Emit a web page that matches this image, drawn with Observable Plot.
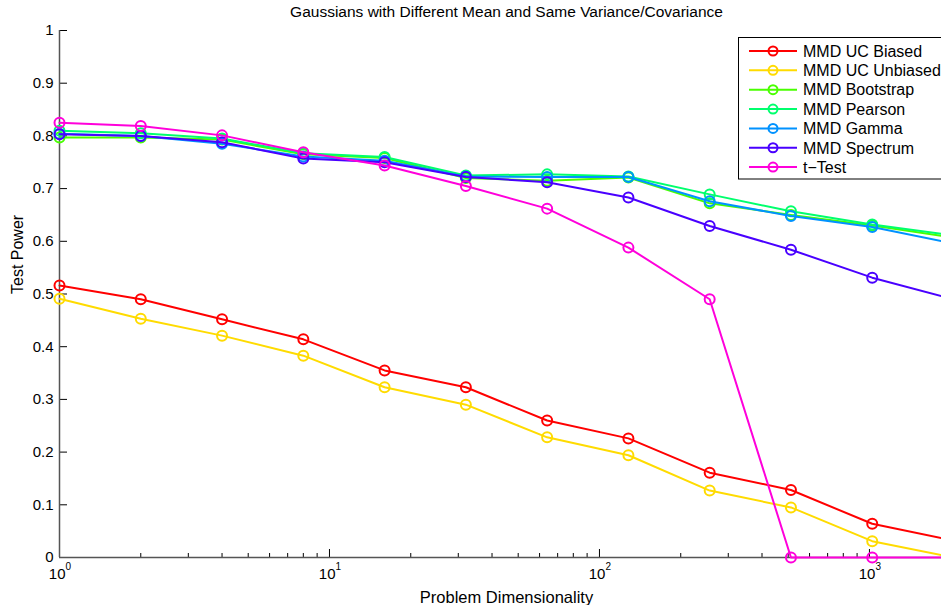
<!DOCTYPE html>
<html><head><meta charset="utf-8">
<script src="https://cdn.jsdelivr.net/npm/d3@7"></script>
<script src="https://cdn.jsdelivr.net/npm/@observablehq/plot@0.6"></script>
<style>
html,body{margin:0;padding:0;background:#fff;overflow:hidden}
#wrap{position:relative;width:941px;height:605px;overflow:hidden;font-family:"Liberation Sans",Arial,Helvetica,sans-serif;background:#fff}
#wrap svg{display:block;max-width:none !important}
#legend{position:absolute;left:738px;top:37px}
</style></head><body><div id="wrap"></div>
<script>
// ---- data ----
const dims = [1, 2, 4, 8, 16, 32, 64, 128, 256, 512, 1024, 2048];
const seriesNames = ["MMD UC Biased", "MMD UC Unbiased", "MMD Bootstrap", "MMD Pearson", "MMD Gamma", "MMD Spectrum", "t\u2212Test"];
const seriesColors = ["#ff0000", "#ffdb00", "#49ff00", "#00ff6d", "#0092ff", "#4900ff", "#ff00db"];
const ucBiased   = [0.516, 0.490, 0.452, 0.414, 0.355, 0.323, 0.260, 0.226, 0.161, 0.128, 0.064, 0.032];
const ucUnbiased = [0.491, 0.453, 0.421, 0.383, 0.323, 0.290, 0.228, 0.194, 0.127, 0.095, 0.031, 0.000];
const bootstrap  = [0.797, 0.797, 0.793, 0.765, 0.758, 0.720, 0.715, 0.721, 0.672, 0.650, 0.630, 0.607];
const pearson    = [0.810, 0.805, 0.795, 0.767, 0.760, 0.725, 0.727, 0.723, 0.689, 0.657, 0.632, 0.611];
const gamma      = [0.804, 0.800, 0.785, 0.761, 0.753, 0.723, 0.722, 0.722, 0.676, 0.648, 0.627, 0.596];
const spectrum   = [0.803, 0.800, 0.788, 0.757, 0.750, 0.722, 0.712, 0.683, 0.629, 0.584, 0.531, 0.490];
const tTest      = [0.825, 0.819, 0.801, 0.769, 0.744, 0.705, 0.662, 0.588, 0.490, 0.000, 0.000, 0.000];
const seriesValues = [ucBiased, ucUnbiased, bootstrap, pearson, gamma, spectrum, tTest];

const yTicks = [0, 0.1, 0.2, 0.3, 0.4, 0.5, 0.6, 0.7, 0.8, 0.9, 1];
const xMajor = [1, 10, 100, 1000];
const xExponents = ["0", "1", "2", "3"];
const xMinor = [2,3,4,5,6,7,8,9,20,30,40,50,60,70,80,90,200,300,400,500,600,700,800,900,2000];

const titleText = "Gaussians with Different Mean and Same Variance/Covariance";
const xLabel = "Problem Dimensionality";
const yLabel = "Test Power";

// ---- table ----
const rows = [];
seriesNames.forEach((s, i) => dims.forEach((d, j) => rows.push({series: s, dim: d, value: seriesValues[i][j]})));

const W = 953, H = 605, mT = 30, mB = 48, mL = 59, mR = 0;
const frameH = H - mT - mB, frameW = W - mL - mR;
const font = '"Liberation Sans", Arial, Helvetica, sans-serif';

const seriesMarks = seriesNames.flatMap(s => {
  const data = rows.filter(r => r.series === s);
  return [
    Plot.line(data, {x: "dim", y: "value", stroke: "series", strokeWidth: 2}),
    Plot.dot(data, {x: "dim", y: "value", stroke: "series", r: 5, strokeWidth: 2, fill: "none"})
  ];
});

const chart = Plot.plot({
  width: W, height: H,
  marginTop: mT, marginBottom: mB, marginLeft: mL, marginRight: mR,
  style: {fontFamily: font, fontSize: "15px", background: "white", color: "#000", overflow: "hidden", maxWidth: "none"},
  x: {type: "log", domain: [1, 2048], axis: null},
  y: {domain: [0, 1], axis: null},
  color: {domain: seriesNames, range: seriesColors},
  marks: [
    Plot.tickX(xMinor, {x: d => d, stroke: "#000", strokeWidth: 1, insetTop: frameH - 4}),
    Plot.tickX(xMajor, {x: d => d, stroke: "#000", strokeWidth: 1, insetTop: frameH - 8}),
    Plot.tickY(yTicks, {y: d => d, stroke: "#000", strokeWidth: 1, insetRight: frameW - 8}),
    Plot.ruleY([0], {stroke: "#555", strokeWidth: 1.5}),
    Plot.ruleX([1], {stroke: "#555", strokeWidth: 1.5}),
    ...seriesMarks,
    Plot.text(yTicks, {y: d => d, frameAnchor: "left", text: d => String(+d.toFixed(1)), textAnchor: "end", lineAnchor: "middle", dx: -6, fontSize: 15}),
    Plot.text(xMajor, {x: d => d, frameAnchor: "bottom", text: () => "10", textAnchor: "end", lineAnchor: "middle", dx: 6, dy: 17, fontSize: 15}),
    Plot.text(xMajor, {x: d => d, frameAnchor: "bottom", text: (d, i) => xExponents[i], textAnchor: "start", lineAnchor: "middle", dx: 6, dy: 9, fontSize: 10}),
    Plot.text([titleText], {frameAnchor: "top", text: d => d, lineAnchor: "middle", dy: -18.5, fontSize: 15.5}),
    Plot.text([xLabel], {frameAnchor: "bottom", text: d => d, lineAnchor: "middle", dy: 40, fontSize: 16.5}),
    Plot.text([yLabel], {frameAnchor: "left", text: d => d, lineAnchor: "middle", rotate: -90, dx: -42, fontSize: 16})
  ]
});
document.getElementById("wrap").appendChild(chart);

// ---- legend ----
const lg = d3.select("#wrap").append("svg").attr("id", "legend")
  .attr("width", 210).attr("height", 143)
  .style("font-family", font);
lg.append("rect").attr("x", 0.5).attr("y", 0.5).attr("width", 220).attr("height", 141.5)
  .attr("fill", "#fff").attr("stroke", "#000").attr("stroke-width", 1);
seriesNames.forEach((s, i) => {
  const cy = 14 + i * 19.35;
  const g = lg.append("g");
  g.append("line").attr("x1", 11).attr("x2", 59).attr("y1", cy).attr("y2", cy)
    .attr("stroke", seriesColors[i]).attr("stroke-width", 2);
  g.append("circle").attr("cx", 35).attr("cy", cy).attr("r", 4.5)
    .attr("fill", "none").attr("stroke", seriesColors[i]).attr("stroke-width", 2);
  g.append("text").attr("x", 65).attr("y", cy).attr("dy", "0.36em")
    .attr("font-size", 16).attr("fill", "#000").text(s);
});
</script></body></html>
